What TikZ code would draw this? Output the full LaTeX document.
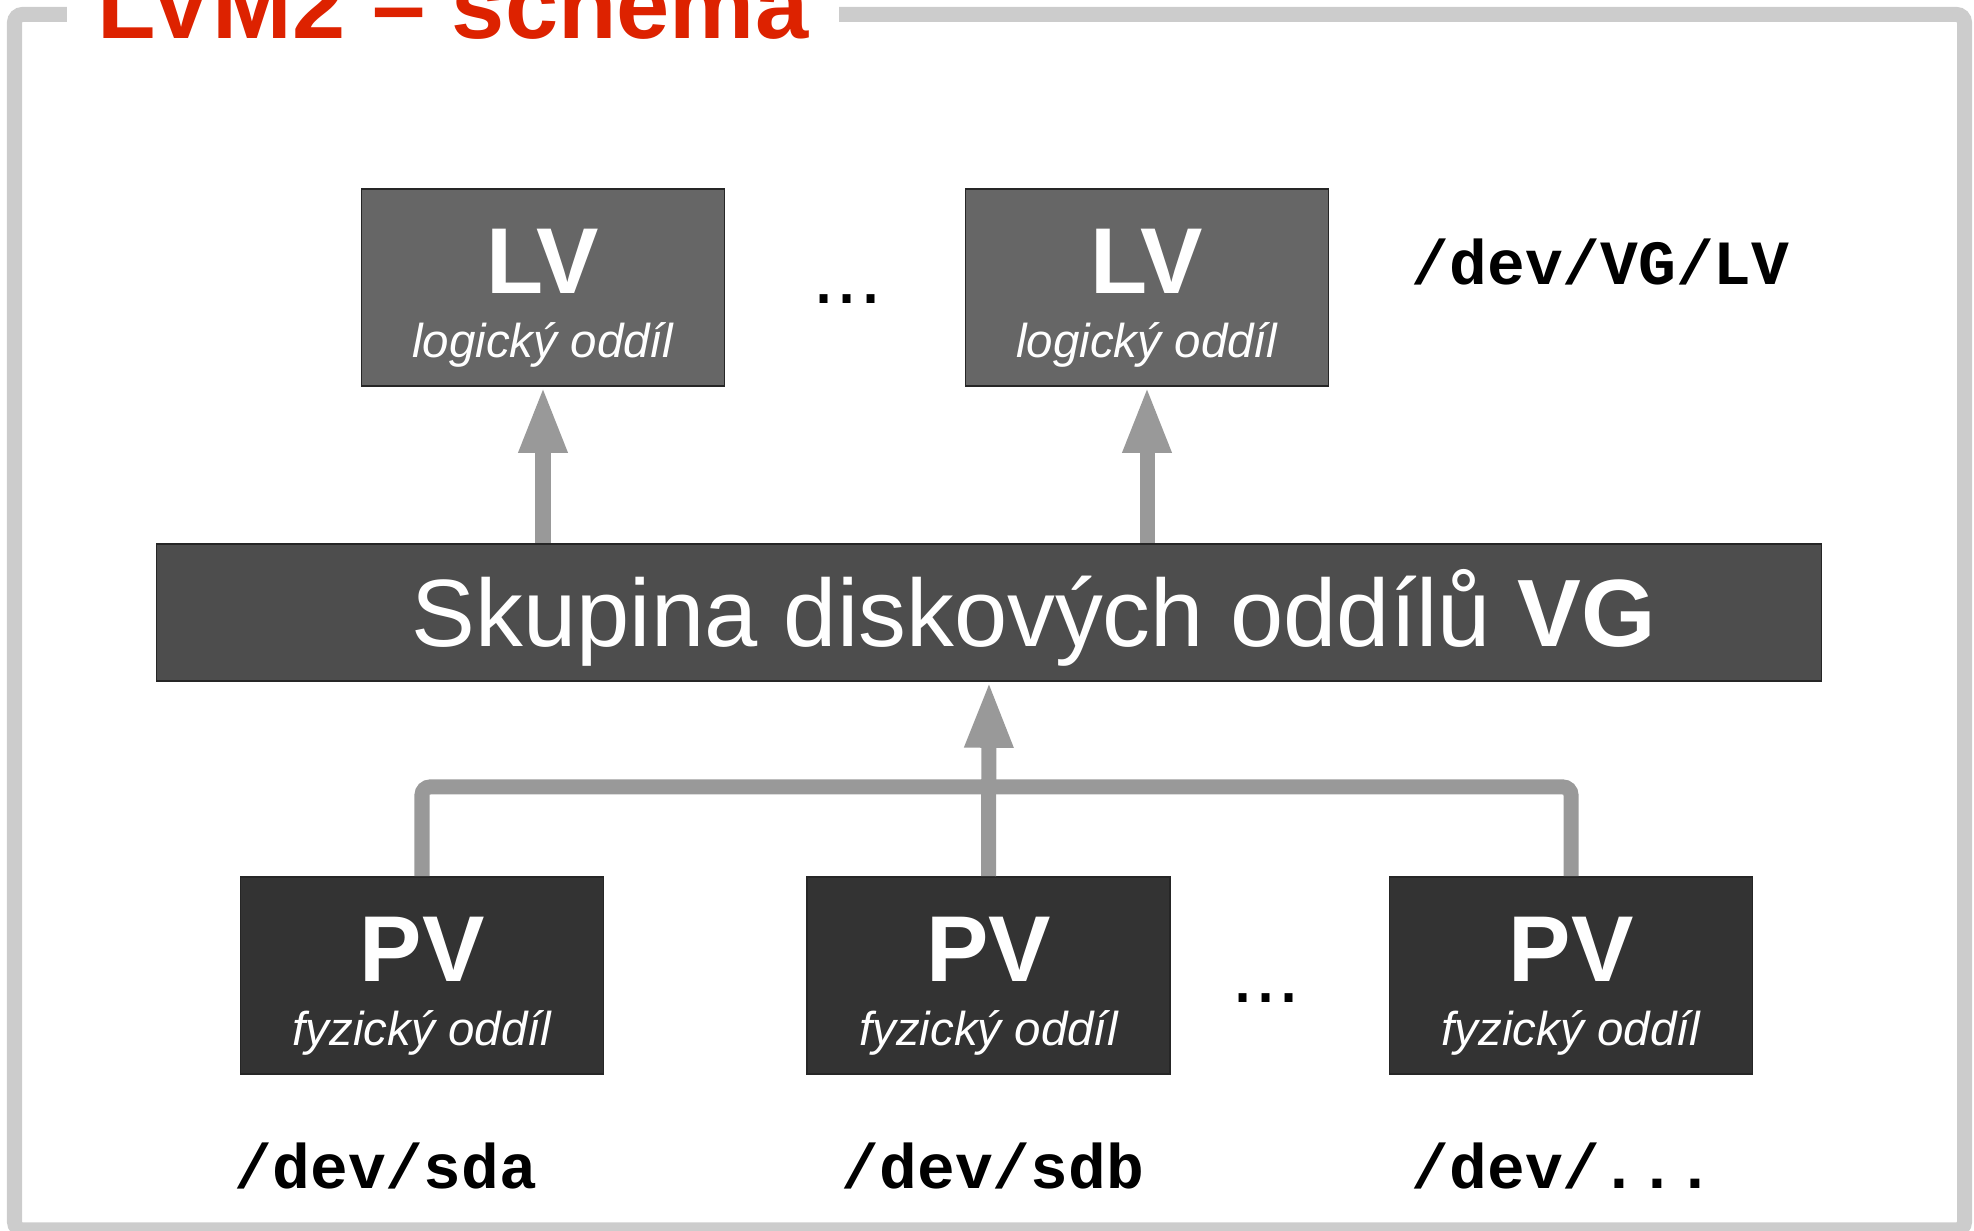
\documentclass[tikz,border=0pt]{standalone}
\usepackage{fontspec}
\setmainfont{Liberation Sans}
\setmonofont{Liberation Mono}
\usetikzlibrary{arrows.meta}
\definecolor{framegray}{HTML}{CCCCCC}
\definecolor{linkgray}{HTML}{999999}
\definecolor{lvgray}{HTML}{666666}
\definecolor{vggray}{HTML}{4D4D4D}
\definecolor{pvgray}{HTML}{333333}
\definecolor{titlered}{RGB}{221,34,0}
\tikzset{
    box/.style={draw=black!85,line width=0.4pt,inner sep=0pt,minimum width=3.63cm,minimum height=1.97cm},
    lvbox/.style={box,fill=lvgray},
    pvbox/.style={box,fill=pvgray},
    vgbox/.style={box,fill=vggray,minimum width=16.64cm,minimum height=1.37cm},
    bigtxt/.style={text=white,inner sep=0pt,anchor=base,font=\fontsize{26.6}{30}\selectfont\bfseries},
    subtxt/.style={text=white,inner sep=0pt,anchor=base,font=\fontsize{13.5}{16}\selectfont\itshape},
    devtxt/.style={inner sep=0pt,anchor=base west,font=\fontsize{17.9}{20}\selectfont\ttfamily\bfseries},
    dotstxt/.style={inner sep=0pt,anchor=base,font=\fontsize{23.6}{26}\selectfont},
    link/.style={draw=linkgray,line width=0.15cm},
    uplink/.style={link,-{Triangle[length=0.66cm,width=0.45cm]}},
}

\begin{document}
\begin{tikzpicture}[x=0.01cm,y=-0.01cm]
\useasboundingbox (0,0) rectangle (1974,1231);
% frame and title
\draw[framegray,line width=0.15cm,rounded corners=0.08cm] (14.5,14.5) rectangle (1964.5,1230);
\node[fill=white,inner sep=0pt,minimum width=7.72cm,anchor=base,text=titlered,
      font=\fontsize{27.2}{30}\selectfont\bfseries] (title) at (453,38.7) {LVM2 – schéma};
% logical volumes
\node[lvbox] (lv1) at (543,287.5) {};
\node[lvbox] (lv2) at (1147,287.5) {};
\foreach \n in {lv1,lv2}{
    \node[bigtxt] (\n name) at ([yshift=-1.05cm]\n.north) {LV};
    \node[subtxt] (\n desc) at ([yshift=-1.69cm]\n.north) {logický oddíl};
}
\node[dotstxt] (lvdots) at (847.5,304) {...};
\node[devtxt] (lvdev) at (1411,285) {/dev/VG/LV};
% volume group
\node[vgbox] (vg) at (989,612.5) {};
\node[inner sep=0pt,anchor=base,text=white,font=\fontsize{27.2}{30}\selectfont] (vgname)
    at (1034,647) {Skupina diskových oddílů \textbf{VG}};
% physical volumes
\node[pvbox] (pv1) at (422,975.5) {};
\node[pvbox] (pv2) at (988.5,975.5) {};
\node[pvbox] (pv3) at (1571,975.5) {};
\foreach \n in {pv1,pv2,pv3}{
    \node[bigtxt] (\n name) at ([yshift=-1.05cm]\n.north) {PV};
    \node[subtxt] (\n desc) at ([yshift=-1.69cm]\n.north) {fyzický oddíl};
}
\node[dotstxt] (pvdots) at (1266,1003) {...};
\node[devtxt] (pv1dev) at (234,1189) {/dev/sda};
\node[devtxt] (pv2dev) at (841,1189) {/dev/sdb};
\node[devtxt] (pv3dev) at (1411,1189) {/dev/...};
% connectors
\coordinate (bus) at (988.5,787);
\draw[link,rounded corners=0.08cm] (pv1.north) |- (bus) -| (pv3.north);
\draw[uplink] (pv2.north) -- (vg.south);
\draw[uplink] (lv1.south |- vg.north) -- (lv1.south);
\draw[uplink] (lv2.south |- vg.north) -- (lv2.south);
\end{tikzpicture}
\end{document}
